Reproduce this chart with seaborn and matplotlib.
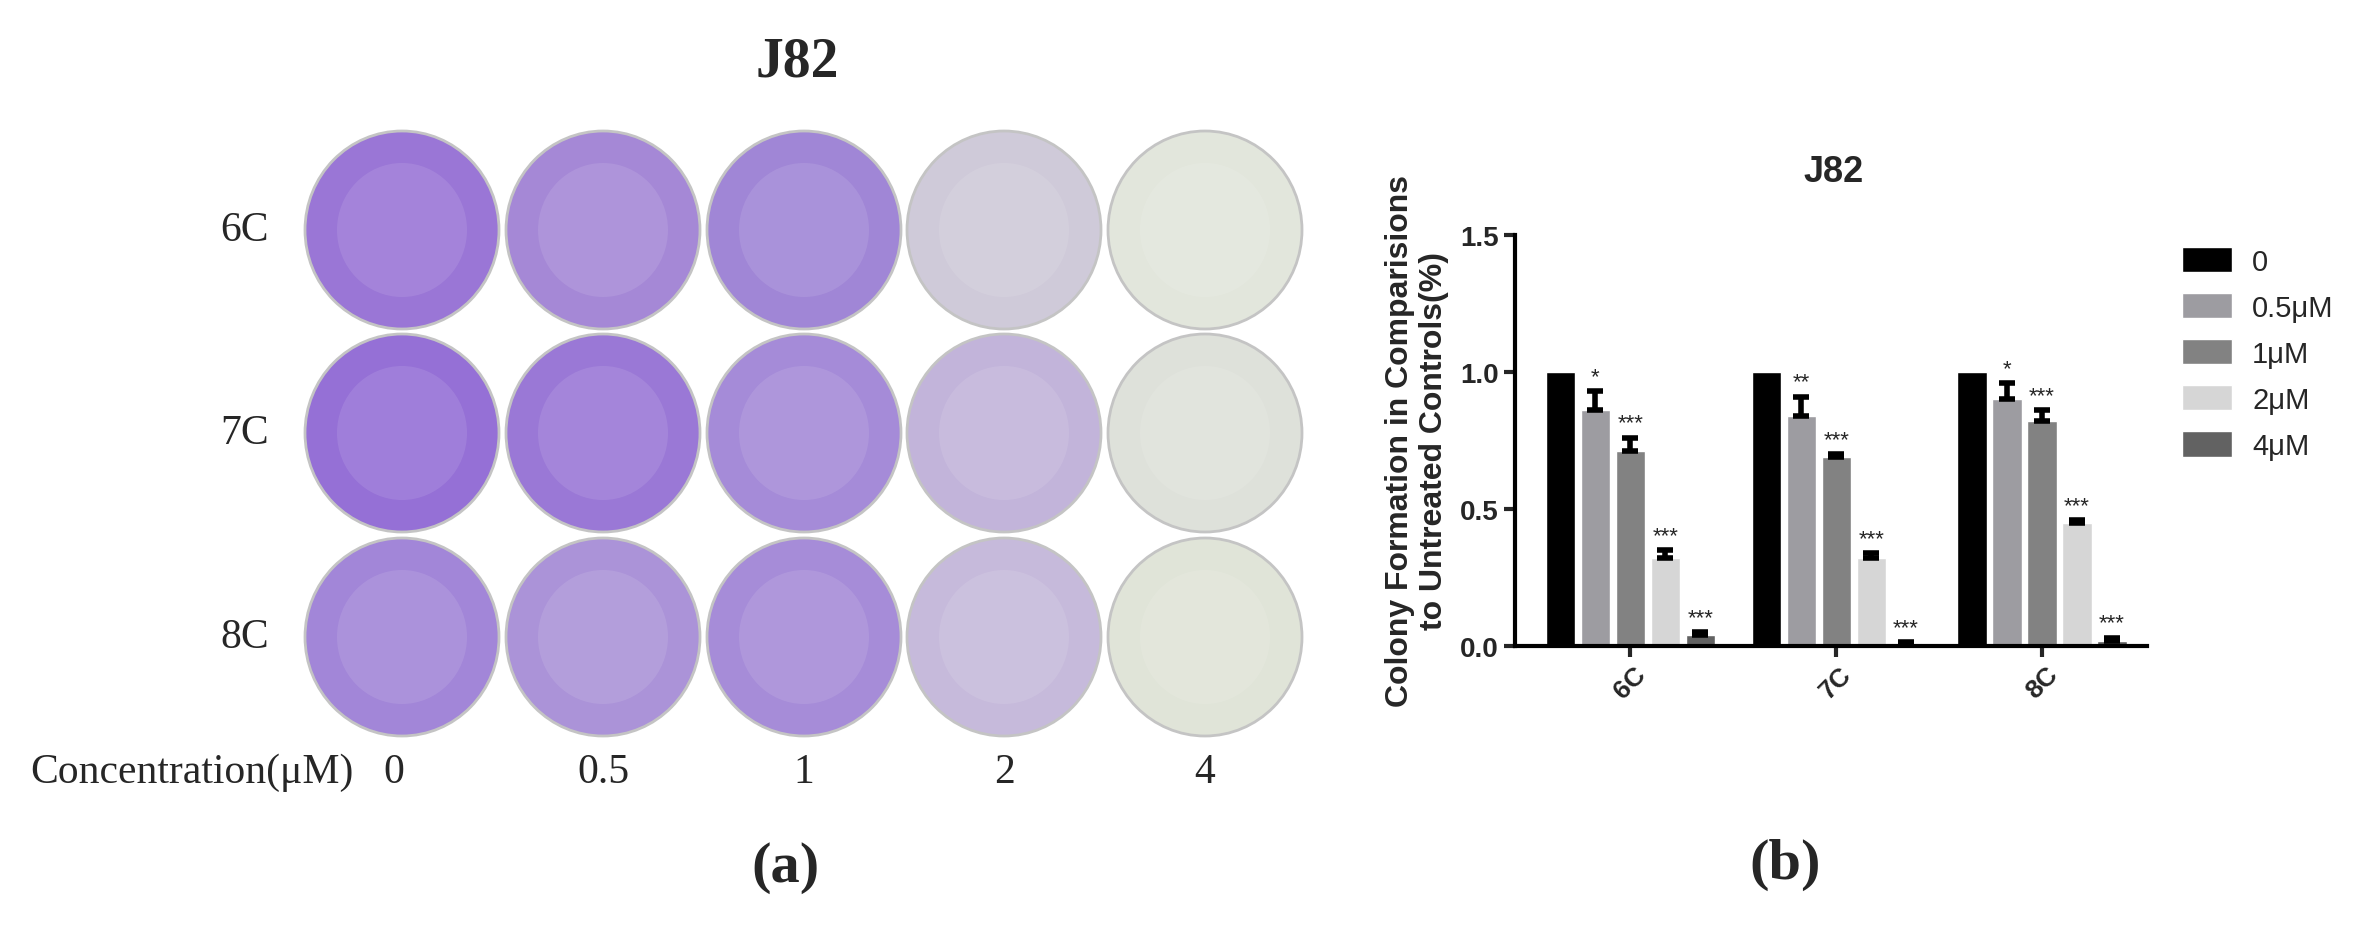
import numpy as np
import pandas as pd
import matplotlib.pyplot as plt
import seaborn as sns
from matplotlib.patches import Ellipse
from matplotlib.container import BarContainer

cells = ['6C', '7C', '8C']
doses = ['0', '0.5μM', '1μM', '2μM', '4μM']
dish_doses = ['0', '0.5', '1', '2', '4']
means = {'6C': [1.0, 0.86, 0.71, 0.32, 0.04],
         '7C': [1.0, 0.84, 0.69, 0.32, 0.01],
         '8C': [1.0, 0.90, 0.82, 0.45, 0.02]}
errs = {'6C': [0.0, 0.07, 0.05, 0.03, 0.01],
        '7C': [0.0, 0.07, 0.01, 0.02, 0.005],
        '8C': [0.0, 0.06, 0.04, 0.01, 0.01]}
stars = {'6C': ['', '*', '***', '***', '***'],
         '7C': ['', '**', '***', '***', '***'],
         '8C': ['', '*', '***', '***', '***']}
bar_colors = ['#000000', '#9d9ca1', '#828282', '#d6d6d6', '#626262']
# dish stain colour per row, per dose
dish_colors = [['#9a76d6', '#a588d6', '#a086d6', '#cfcad9', '#e2e6dc'],
               ['#9570d6', '#9a78d6', '#a58bd8', '#c2b4da', '#dee1da'],
               ['#a286d8', '#ab93d8', '#a68cd8', '#c6badb', '#e0e4d8']]

rows = []
for c in cells:
    for d, m in zip(doses, means[c]):
        rows.append({'cell': c, 'dose': d, 'value': m})
df = pd.DataFrame(rows)

sns.set_style('white')
plt.rcParams['font.family'] = ['Liberation Sans', 'DejaVu Sans']
fig = plt.figure(figsize=(23.76, 9.29), dpi=100)

# panel (a): dishes drawn in pixel coordinates
pa = fig.add_axes([0, 0, 1, 1])
pa.set_xlim(0, 2376)
pa.set_ylim(929, 0)
pa.axis('off')
xs = [402, 603, 804, 1004, 1205]
ys = [231, 434, 638]
serif = 'Liberation Serif'
for i, c in enumerate(cells):
    for j in range(5):
        pa.add_patch(Ellipse((xs[j], ys[i]), 194, 198, facecolor=dish_colors[i][j],
                             edgecolor='#c4c4c4', lw=2))
        pa.add_patch(Ellipse((xs[j], ys[i]), 130, 134, facecolor='white', alpha=0.1, lw=0))
    pa.text(245, ys[i], c, fontsize=30, family=serif, ha='center', va='center')
pa.text(192, 773, 'Concentration(μM)', fontsize=30, family=serif, ha='center', va='center')
for j in range(5):
    pa.text(xs[j] - (8 if j == 0 else 0), 773, dish_doses[j], fontsize=30, family=serif,
            ha='center', va='center')
pa.text(797, 62, 'J82', fontsize=40, weight='bold', family=serif, ha='center', va='center')
pa.text(786, 868, '(a)', fontsize=42, weight='bold', family=serif, ha='center', va='center')
pa.text(1785, 865, '(b)', fontsize=42, weight='bold', family=serif, ha='center', va='center')

# panel (b): bar chart
ax = fig.add_axes([1515 / 2376, 1 - 647 / 929, 632 / 2376, 411 / 929])
sns.barplot(data=df, x='cell', y='value', hue='dose', palette=bar_colors, errorbar=None,
            width=0.85, gap=0.17, ax=ax, saturation=1)
bars = [cont for cont in ax.containers if isinstance(cont, BarContainer)]
for k, cont in enumerate(bars):
    for i, bar in enumerate(cont):
        c = cells[i]
        x = bar.get_x() + bar.get_width() / 2
        h = bar.get_height()
        e = errs[c][k]
        if e > 0:
            ax.errorbar(x, h, yerr=[[0], [e]], fmt='none', ecolor='black',
                        elinewidth=4, capsize=6, capthick=4)
        if stars[c][k]:
            ax.text(x, h + e + 0.015, stars[c][k], ha='center', va='bottom', fontsize=16)
ax.set_ylim(0, 1.5)
ax.set_xlim(-0.56, 2.51)
ax.set_yticks([0, 0.5, 1.0, 1.5])
ax.set_yticklabels(['0.0', '0.5', '1.0', '1.5'], fontsize=20, weight='bold')
ax.set_xticks(range(3))
ax.set_xticklabels(cells, rotation=45, fontsize=19, weight='bold')
ax.tick_params(axis='both', length=8, width=3, direction='out', left=True, bottom=True)
for s in ['top', 'right']:
    ax.spines[s].set_visible(False)
for s in ['left', 'bottom']:
    ax.spines[s].set_linewidth(3)
    ax.spines[s].set_color('black')
ax.set_xlabel('')
ax.set_ylabel('Colony Formation in Comparisions\nto Untreated Controls(%)', fontsize=23,
              weight='bold', labelpad=8)
fig.text(1834 / 2376, 1 - 172 / 929, 'J82', fontsize=26, weight='bold', ha='center', va='center')
ax.legend(loc='upper left', bbox_to_anchor=(2182 / 2376, 1 - 248 / 929),
          bbox_transform=fig.transFigure, frameon=False, fontsize=21,
          borderpad=0, borderaxespad=0, handlelength=1.7, handleheight=0.95,
          handletextpad=0.7, labelspacing=0.6)

fig.savefig('out.png', dpi=100)
